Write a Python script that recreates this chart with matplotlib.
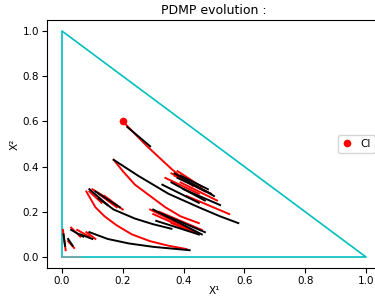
import matplotlib
matplotlib.use("Agg")
import matplotlib.pyplot as plt

# simplex border
tri_x = [0, 1, 0, 0]
tri_y = [0, 0, 1, 0]

# initial condition
ci_x = [0.2]
ci_y = [0.6]

# red pieces of the trajectory (flow)
red_x = [
    [0.20, 0.24, 0.28, 0.32, 0.36, 0.40, 0.43],
    [0.36, 0.47], [0.37, 0.49], [0.34, 0.45], [0.39, 0.51], [0.41, 0.55], [0.38, 0.46],
    [0.17, 0.20, 0.24, 0.29, 0.34, 0.39, 0.45],
    [0.08, 0.11, 0.14, 0.18, 0.23, 0.29, 0.35, 0.41],
    [0.29, 0.44], [0.32, 0.46], [0.36, 0.45], [0.30, 0.40],
    [0.09, 0.13], [0.12, 0.18], [0.14, 0.20], [0.10, 0.16],
    [0.003, 0.012], [0.03, 0.06], [0.05, 0.09], [0.08, 0.11], [0.02, 0.04],
]
red_y = [
    [0.60, 0.545, 0.49, 0.44, 0.39, 0.345, 0.315],
    [0.37, 0.29], [0.36, 0.28], [0.35, 0.28], [0.33, 0.25], [0.27, 0.19], [0.38, 0.31],
    [0.43, 0.38, 0.32, 0.27, 0.22, 0.18, 0.15],
    [0.29, 0.22, 0.18, 0.14, 0.10, 0.07, 0.05, 0.035],
    [0.21, 0.11], [0.20, 0.12], [0.15, 0.10], [0.19, 0.13],
    [0.29, 0.24], [0.28, 0.22], [0.27, 0.21], [0.30, 0.25],
    [0.12, 0.03], [0.13, 0.09], [0.12, 0.09], [0.11, 0.08], [0.07, 0.04],
]

# black pieces (jumps)
black_x = [
    [0.215, 0.29],
    [0.37, 0.50], [0.38, 0.49], [0.36, 0.47], [0.40, 0.52], [0.33, 0.45], [0.39, 0.48],
    [0.17, 0.25, 0.35, 0.45, 0.52, 0.58],
    [0.30, 0.46], [0.33, 0.47], [0.31, 0.45],
    [0.12, 0.17, 0.24, 0.30, 0.36],
    [0.09, 0.15, 0.22, 0.30, 0.42],
    [0.09, 0.15], [0.11, 0.19],
    [0.005, 0.01], [0.03, 0.07], [0.06, 0.10], [0.02, 0.035],
]
black_y = [
    [0.575, 0.49],
    [0.37, 0.27], [0.35, 0.28], [0.33, 0.25], [0.30, 0.23], [0.32, 0.24], [0.36, 0.30],
    [0.43, 0.36, 0.28, 0.22, 0.18, 0.15],
    [0.21, 0.10], [0.19, 0.11], [0.16, 0.10],
    [0.26, 0.21, 0.17, 0.145, 0.125],
    [0.11, 0.08, 0.06, 0.045, 0.03],
    [0.30, 0.23], [0.29, 0.22],
    [0.10, 0.05], [0.12, 0.09], [0.10, 0.08], [0.08, 0.05],
]

# faint stroke near the origin
grey_x = [0.0, 0.06]
grey_y = [0.0, 0.0]

fig = plt.figure(figsize=(3.75, 2.97), dpi=100)
ax = fig.add_axes([0.1248, 0.0966, 0.8917, 0.837])

ax.plot(tri_x, tri_y, color="c", lw=1.2)
ax.plot(grey_x, grey_y, color="0.6", lw=1.5, alpha=0.6)
for xs, ys in zip(red_x, red_y):
    ax.plot(xs, ys, color="r", lw=1.4)
for xs, ys in zip(black_x, black_y):
    ax.plot(xs, ys, color="k", lw=1.4)
ax.plot(ci_x, ci_y, "o", color="r", ms=4.5, label="CI")

ax.set_xlim(-0.05, 1.05)
ax.set_ylim(-0.05, 1.05)
ax.set_xticks([0, 0.2, 0.4, 0.6, 0.8, 1.0])
ax.set_yticks([0, 0.2, 0.4, 0.6, 0.8, 1.0])
ax.tick_params(labelsize=7.5, pad=2)
ax.set_xlabel("X\u00b9", fontsize=7.5, labelpad=0)
ax.set_ylabel("X\u00b2", fontsize=7.5, labelpad=2)
ax.set_title("PDMP evolution :", fontsize=9, pad=4)
ax.legend(loc="center left", bbox_to_anchor=(0.855, 0.5), fontsize=7.5,
          handlelength=1.0, handletextpad=0.8)

fig.savefig("out.png", dpi=100)
